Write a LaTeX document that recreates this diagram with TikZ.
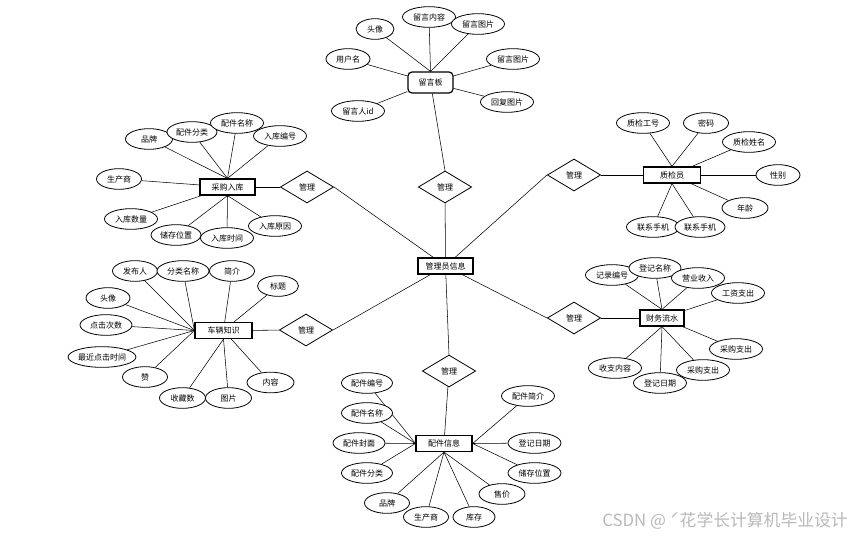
\documentclass[tikz,border=0pt]{standalone}
\usepackage{fontspec}
\newfontfamily\cjk{Noto Sans CJK SC}
\usetikzlibrary{shapes.geometric,backgrounds}
\definecolor{wmgray}{RGB}{185,185,185}
\tikzset{
  base/.style={font=\cjk\fontsize{6}{7}\selectfont, inner sep=0pt},
  attr/.style={base, ellipse, draw, line width=0.6pt, fill=white, minimum width={#1*0.75pt}, minimum height=15.5pt},
  attr/.default=53,
  ent/.style={base, rectangle, draw, line width=0.9pt, fill=white, minimum width={#1*0.75pt}, minimum height=12pt},
  rel/.style={base, diamond, draw, line width=0.6pt, fill=white, aspect=1.66, minimum width=40pt, minimum height=24pt},
  link/.style={line width=0.6pt}
}
\begin{document}
\begin{tikzpicture}[x=0.75pt,y=-0.75pt]
\useasboundingbox (0,0) rectangle (854,539);

% central entity and relationships
\node[ent=55] (adm) at (445.5,266) {管理员信息};
\node[rel] (d0) at (445,187) {管理};
\node[rel] (d1) at (307,187) {管理};
\node[rel] (d2) at (306,330) {管理};
\node[rel] (d3) at (574,175) {管理};
\node[rel] (d4) at (574,318) {管理};
\node[rel] (d5) at (449,371) {管理};

% 留言板
\node[ent=45, rounded corners=3pt, minimum height=15.75pt] (lyb) at (430.5,82.5) {留言板};
\node[attr=38] (ly1) at (375,29) {头像};
\node[attr] (ly2) at (429,17) {留言内容};
\node[attr] (ly3) at (478,24) {留言图片};
\node[attr=44] (ly4) at (348,59) {用户名};
\node[attr] (ly5) at (513,59) {留言图片};
\node[attr] (ly6) at (507,102) {回复图片};
\node[attr] (ly7) at (358,111) {留言人id};

% 采购入库
\node[ent=55] (cg) at (227.5,187) {采购入库};
\node[attr=47] (cg1) at (149,139) {品牌};
\node[attr=50] (cg2) at (192,132) {配件分类};
\node[attr] (cg3) at (237,123) {配件名称};
\node[attr] (cg4) at (280,136) {入库编号};
\node[attr=45] (cg5) at (119,179) {生产商};
\node[attr] (cg6) at (131,219) {入库数量};
\node[attr=50] (cg7) at (176,235) {储存位置};
\node[attr] (cg8) at (227,238) {入库时间};
\node[attr] (cg9) at (275,226) {入库原因};

% 质检员
\node[ent=57] (zj) at (672,175) {质检员};
\node[attr] (zj1) at (643,123) {质检工号};
\node[attr=45] (zj2) at (706,123) {密码};
\node[attr] (zj3) at (749,142) {质检姓名};
\node[attr=44] (zj4) at (778,175) {性别};
\node[attr=46] (zj5) at (745,208) {年龄};
\node[attr] (zj6) at (653,227) {联系手机};
\node[attr=50] (zj7) at (700,227) {联系手机};

% 车辆知识
\node[ent=57] (cl) at (223.5,330.5) {车辆知识};
\node[attr=45] (cl1) at (135,271) {发布人};
\node[attr=52] (cl2) at (183,271) {分类名称};
\node[attr=45] (cl3) at (232,271) {简介};
\node[attr=41] (cl4) at (278,286) {标题};
\node[attr=44] (cl5) at (108,298) {头像};
\node[attr=52] (cl6) at (106,325) {点击次数};
\node[attr=60] (cl7) at (102,357) {最近点击时间};
\node[attr=45] (cl8) at (145,377) {赞};
\node[attr=46] (cl9) at (182.5,398) {收藏数};
\node[attr=46] (cl10) at (228.5,398) {图片};
\node[attr=47] (cl11) at (270.5,382.5) {内容};

% 财务流水
\node[ent=44] (cw) at (662,318) {财务流水};
\node[attr] (cw1) at (612,275) {记录编号};
\node[attr=52] (cw2) at (655,268) {登记名称};
\node[attr] (cw3) at (698,278) {营业收入};
\node[attr] (cw4) at (738,293) {工资支出};
\node[attr] (cw8) at (615,368) {收支内容};
\node[attr] (cw7) at (660,383) {登记日期};
\node[attr] (cw6) at (703,370) {采购支出};
\node[attr] (cw5) at (736,349) {采购支出};

% 配件信息
\node[ent=56] (pj) at (444,443.5) {配件信息};
\node[attr=51] (pj1) at (367,383) {配件编号};
\node[attr=51] (pj2) at (367,413) {配件名称};
\node[attr=52] (pj3) at (359,443) {配件封面};
\node[attr=51] (pj4) at (367,473) {配件分类};
\node[attr=45] (pj5) at (387,503) {品牌};
\node[attr=45] (pj6) at (426,517) {生产商};
\node[attr=42] (pj7) at (474,517) {库存};
\node[attr=46] (pj8) at (502,494) {售价};
\node[attr] (pj9) at (534.5,473) {储存位置};
\node[attr] (pj10) at (534.5,443) {登记日期};
\node[attr] (pj11) at (528,396) {配件简介};

% watermark
\node[font=\cjk\fontsize{12.6}{15}\selectfont, text=wmgray, anchor=east, inner sep=0pt] (wm) at (848,521) {CSDN @ ˊ花学长计算机毕业设计};

\begin{scope}[on background layer, link]
  \fill[white] (0,0) rectangle (854,539);
  % central
  \draw (lyb) -- (d0.north);
  \draw (d0) -- (adm);
  \draw (d1.east) -- (adm);
  \draw (d2.east) -- (adm);
  \draw (d3.west) -- (adm);
  \draw (d4.west) -- (adm);
  \draw (adm) -- (d5.north);
  \draw (d1) -- (cg);
  \draw (d2) -- (cl);
  \draw (d3) -- (zj);
  \draw (d4) -- (cw);
  \draw (d5) -- (pj);
  % 留言板
  \draw (ly1) -- (lyb.north);
  \draw (ly2) -- (lyb.north);
  \draw (ly3) -- (lyb.north);
  \draw (ly4) -- (lyb);
  \draw (ly5) -- (lyb);
  \draw (ly6) -- (lyb);
  \draw (ly7) -- (lyb);
  % 采购入库
  \draw (cg1) -- (cg.north);
  \draw (cg2) -- (cg.north);
  \draw (cg3) -- (cg.north);
  \draw (cg4) -- (cg.north);
  \draw (cg5) -- (cg);
  \draw (cg6) -- (cg);
  \draw (cg7) -- (cg.south);
  \draw (cg8) -- (cg.south);
  \draw (cg9) -- (cg.south);
  % 质检员
  \draw (zj1) -- (zj.north);
  \draw (zj2) -- (zj.north);
  \draw (zj3) -- (zj);
  \draw (zj4) -- (zj);
  \draw (zj5) -- (zj);
  \draw (zj6) -- (zj.south);
  \draw (zj7) -- (zj.south);
  % 车辆知识
  \draw (cl1) -- (cl.west);
  \draw (cl2) -- (cl.west);
  \draw (cl3) -- (cl);
  \draw (cl4) -- (cl);
  \draw (cl5) -- (cl.west);
  \draw (cl6) -- (cl.west);
  \draw (cl7) -- (cl.west);
  \draw (cl8) -- (cl.west);
  \draw (cl9) -- (cl.south);
  \draw (cl10) -- (cl.south);
  \draw (cl11) -- (cl);
  % 财务流水
  \draw (cw1) -- (cw.north);
  \draw (cw2) -- (cw.north);
  \draw (cw3) -- (cw.north);
  \draw (cw4) -- (cw);
  \draw (cw5) -- (cw);
  \draw (cw6) -- (cw.south);
  \draw (cw7) -- (cw.south);
  \draw (cw8) -- (cw.south);
  % 配件信息
  \draw (pj1) -- (pj.west);
  \draw (pj2) -- (pj.west);
  \draw (pj3) -- (pj.west);
  \draw (pj4) -- (pj.west);
  \draw (pj5) -- (pj.south);
  \draw (pj6) -- (pj.south);
  \draw (pj7) -- (pj.south);
  \draw (pj8) -- (pj.south);
  \draw (pj9) -- (pj.east);
  \draw (pj10) -- (pj.east);
  \draw (pj11) -- (pj.east);
\end{scope}
\end{tikzpicture}
\end{document}
